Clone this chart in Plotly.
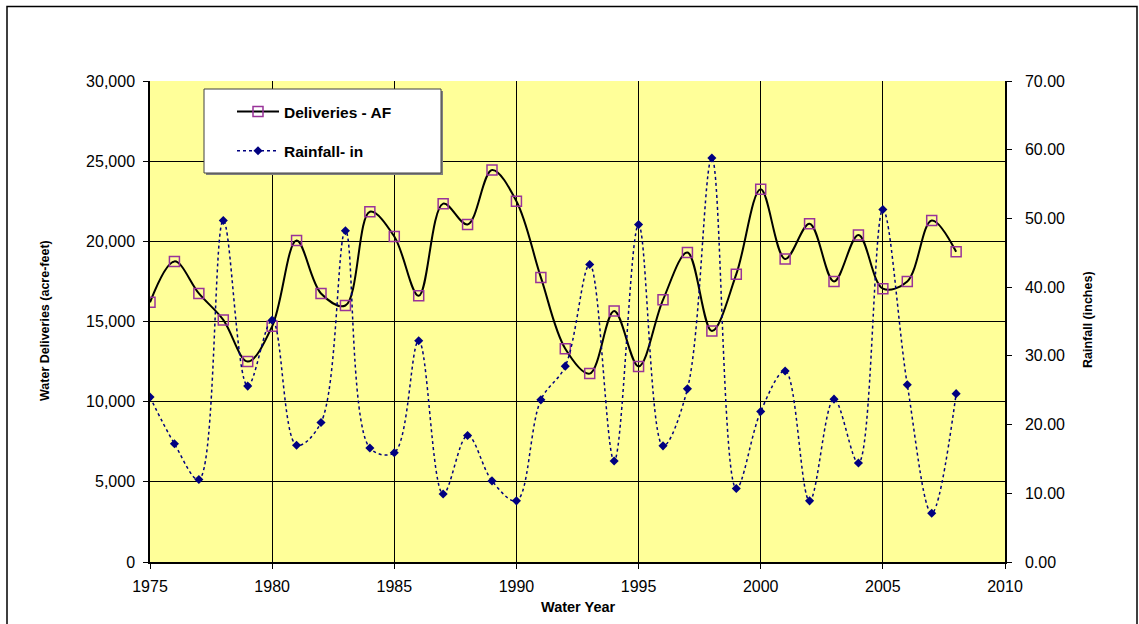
import plotly.graph_objects as go

# Water year, annual deliveries (acre-feet) and annual rainfall (inches)
years = list(range(1975, 2009))
deliveries_af = [16200, 18750, 16750, 15100, 12500, 14700, 20050, 16750, 16000, 21850,
                 20300, 16600, 22350, 21050, 24450, 22500, 17750, 13300, 11750, 15650,
                 12200, 16350, 19300, 14400, 17950, 23250, 18900, 21100, 17500, 20400,
                 17050, 17500, 21300, 19350]
rainfall_in = [24.0, 17.2, 12.0, 49.7, 25.6, 35.2, 17.0, 20.3, 48.2, 16.6,
               15.9, 32.2, 9.9, 18.4, 11.8, 8.9, 23.6, 28.5, 43.3, 14.7,
               49.1, 16.9, 25.2, 58.8, 10.7, 21.9, 27.8, 8.9, 23.7, 14.4,
               51.3, 25.8, 7.1, 24.5]

x_ticks = [1975, 1980, 1985, 1990, 1995, 2000, 2005, 2010]
left_ticks = [0, 5000, 10000, 15000, 20000, 25000, 30000]
right_ticks = [0, 10, 20, 30, 40, 50, 60, 70]

W, H = 1139, 624
L, R, T, B = 150, 134, 81, 62
PW, PH = W - L - R, H - T - B


def px_x(p):
    return (p - L) / PW


def px_y(p):
    return (H - B - p) / PH


FONT = "Liberation Sans, Arial, sans-serif"

fig = go.Figure()

fig.add_trace(go.Scatter(
    x=years, y=deliveries_af, name="Deliveries - AF",
    mode="lines+markers", legendgroup="a",
    line=dict(color="black", width=2, shape="spline", smoothing=1.0),
    marker=dict(symbol="square-open", size=10, color="#993399",
                line=dict(width=1.5, color="#993399")),
    yaxis="y",
))

fig.add_trace(go.Scatter(
    x=years, y=rainfall_in, name="Rainfall- in",
    mode="lines+markers", legendgroup="b",
    line=dict(color="#000080", width=1.5, dash="dot", shape="spline", smoothing=1.0),
    marker=dict(symbol="diamond", size=7, color="#000080"),
    yaxis="y2",
))

shapes = [
    # outer chart frame
    dict(type="rect", xref="paper", yref="paper",
         x0=px_x(7), x1=px_x(1137), y0=px_y(640), y1=px_y(6.5),
         line=dict(color="black", width=1.5), fillcolor="rgba(0,0,0,0)", layer="above"),
    # legend box shadow and box
    dict(type="rect", xref="paper", yref="paper",
         x0=px_x(206), x1=px_x(443), y0=px_y(175), y1=px_y(91),
         line=dict(width=0), fillcolor="#808080", layer="above"),
    dict(type="rect", xref="paper", yref="paper",
         x0=px_x(204), x1=px_x(441), y0=px_y(173), y1=px_y(89),
         line=dict(color="#404040", width=1), fillcolor="white", layer="above"),
]

annotations = [
    dict(text="<b>Water Deliveries (acre-feet)</b>", xref="paper", yref="paper",
         x=px_x(45), y=px_y(321), textangle=-90, showarrow=False,
         font=dict(family=FONT, size=12.5, color="black"),
         xanchor="center", yanchor="middle"),
    dict(text="<b>Rainfall (inches)</b>", xref="paper", yref="paper",
         x=px_x(1088), y=px_y(320), textangle=-90, showarrow=False,
         font=dict(family=FONT, size=12.5, color="black"),
         xanchor="center", yanchor="middle"),
    dict(text="<b>Water Year</b>", xref="paper", yref="paper",
         x=px_x(578), y=px_y(607), showarrow=False,
         font=dict(family=FONT, size=14.5, color="black"),
         xanchor="center", yanchor="middle"),
]

fig.update_layout(
    width=W, height=H,
    margin=dict(l=L, r=R, t=T, b=B, autoexpand=False),
    paper_bgcolor="white", plot_bgcolor="#FFFF99",
    font=dict(family=FONT, size=16, color="black"),
    showlegend=True,
    legend=dict(x=px_x(232), y=px_y(95), xanchor="left", yanchor="top",
                bgcolor="rgba(0,0,0,0)", borderwidth=0,
                traceorder="grouped", tracegroupgap=16, itemwidth=42,
                font=dict(family=FONT, size=15.5, color="black", weight="bold")),
    xaxis=dict(range=[1975, 2010], tickvals=x_ticks, ticktext=[str(t) for t in x_ticks],
               showgrid=True, gridcolor="black", gridwidth=1, zeroline=False,
               showline=True, linecolor="black", linewidth=1.5, mirror=False,
               ticks="outside", ticklen=5, tickcolor="black",
               ticklabelstandoff=4, tickfont=dict(size=16)),
    yaxis=dict(range=[0, 30000], tickvals=left_ticks,
               ticktext=[f"{v:,}" for v in left_ticks],
               showgrid=True, gridcolor="black", gridwidth=1, zeroline=False,
               showline=True, linecolor="black", linewidth=1.5,
               ticks="outside", ticklen=5, tickcolor="black",
               ticklabelstandoff=5, tickfont=dict(size=16)),
    yaxis2=dict(range=[0, 70], tickvals=right_ticks,
                ticktext=[f"{v:.2f}" for v in right_ticks],
                overlaying="y", side="right", showgrid=False, zeroline=False,
                showline=True, linecolor="black", linewidth=1.5,
                ticks="outside", ticklen=5, tickcolor="black",
                ticklabelstandoff=10, tickfont=dict(size=16)),
    shapes=shapes,
    annotations=annotations,
)

fig.write_html("out.html")
